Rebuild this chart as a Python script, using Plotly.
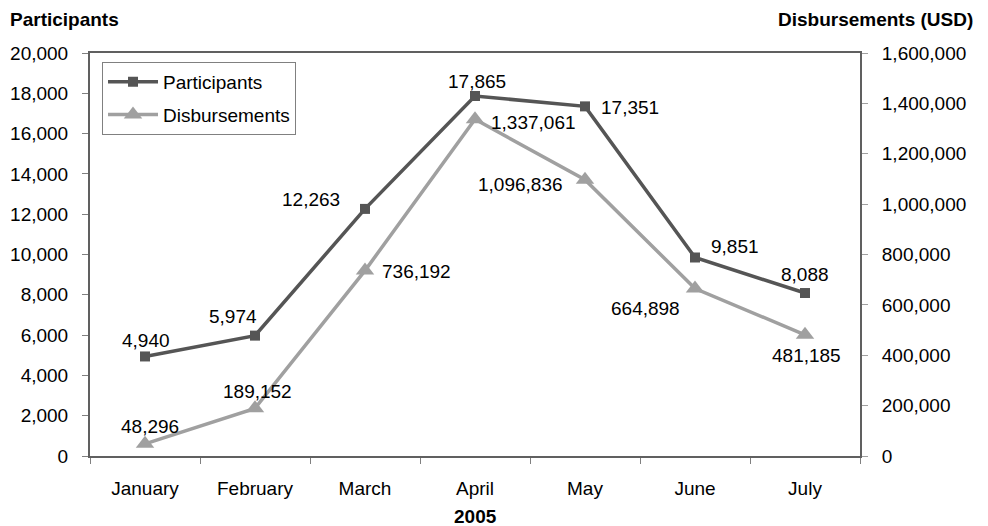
import plotly.graph_objects as go

months = ["January", "February", "March", "April", "May", "June", "July"]
participants = [4940, 5974, 12263, 17865, 17351, 9851, 8088]
disbursements = [48296, 189152, 736192, 1337061, 1096836, 664898, 481185]

# label offsets in pixels (x, y up)
p_off = [(1, 16), (-22, 19), (-54, 9), (2, 15), (45, -1), (40, 11), (0, 19)]
d_off = [(5, 17), (2, 17), (51, -1), (58, -3), (-65, -5), (-50, -20), (1, -21)]

FONT = "Liberation Sans, Arial, sans-serif"
FS = 19

fig = go.Figure()
fig.add_trace(go.Scatter(
    x=months, y=participants, name="Participants", mode="lines+markers",
    legendgroup="a",
    line=dict(color="#555555", width=3.5),
    marker=dict(symbol="square", size=10, color="#555555"),
))
fig.add_trace(go.Scatter(
    x=months, y=disbursements, name="Disbursements", mode="lines+markers", yaxis="y2",
    legendgroup="b",
    line=dict(color="#a0a0a0", width=3.5),
    marker=dict(symbol="triangle-up", size=16, color="#a0a0a0"),
))

annotations = []
for m, v, (dx, dy) in zip(months, participants, p_off):
    annotations.append(dict(x=m, y=v, xref="x", yref="y", text=f"{v:,}", showarrow=False,
                            xshift=dx, yshift=dy, font=dict(size=FS, color="#000000")))
for m, v, (dx, dy) in zip(months, disbursements, d_off):
    annotations.append(dict(x=m, y=v, xref="x", yref="y2", text=f"{v:,}", showarrow=False,
                            xshift=dx, yshift=dy, font=dict(size=FS, color="#000000")))

annotations += [
    dict(text="<b>Participants</b>", xref="paper", yref="paper", x=-0.107, y=1.082,
         xanchor="left", yanchor="middle", showarrow=False, font=dict(size=FS)),
    dict(text="<b>Disbursements (USD)</b>", xref="paper", yref="paper", x=1.149, y=1.082,
         xanchor="right", yanchor="middle", showarrow=False, font=dict(size=FS)),
    dict(text="<b>2005</b>", xref="paper", yref="paper", x=0.5, y=-0.151,
         xanchor="center", yanchor="middle", showarrow=False, font=dict(size=FS)),
]

fig.update_layout(
    width=988, height=526,
    margin=dict(l=82, r=136, t=45, b=78),
    paper_bgcolor="white", plot_bgcolor="white",
    font=dict(family=FONT, size=FS, color="#000000"),
    showlegend=True,
    legend=dict(x=0.0156, y=0.978, xanchor="left", yanchor="top",
                bordercolor="#808080", borderwidth=1, bgcolor="white",
                font=dict(size=FS), tracegroupgap=5, traceorder="grouped", itemwidth=50,
                entrywidth=145, entrywidthmode="pixels"),
    xaxis=dict(showline=True, linecolor="#606060", linewidth=2, mirror=True,
               showgrid=False, ticks="outside", ticklen=6, tickcolor="#808080",
               tickson="boundaries", ticklabelstandoff=14, range=[-0.5, 6.5],
               tickfont=dict(size=FS), automargin=False),
    yaxis=dict(range=[0, 20000], dtick=2000, tickformat=",d", showline=True,
               linecolor="#606060", linewidth=2, showgrid=False, zeroline=False,
               ticks="outside", ticklen=6, tickcolor="#808080", ticklabelstandoff=10,
               tickfont=dict(size=FS), automargin=False),
    yaxis2=dict(range=[0, 1600000], dtick=200000, tickformat=",d", overlaying="y",
                side="right", showline=True, linecolor="#606060", linewidth=2,
                showgrid=False, zeroline=False, ticks="outside", ticklen=6,
                tickcolor="#a0a0a0", ticklabelstandoff=10, tickfont=dict(size=FS),
                automargin=False),
    annotations=annotations,
)

fig.write_html("out.html")
